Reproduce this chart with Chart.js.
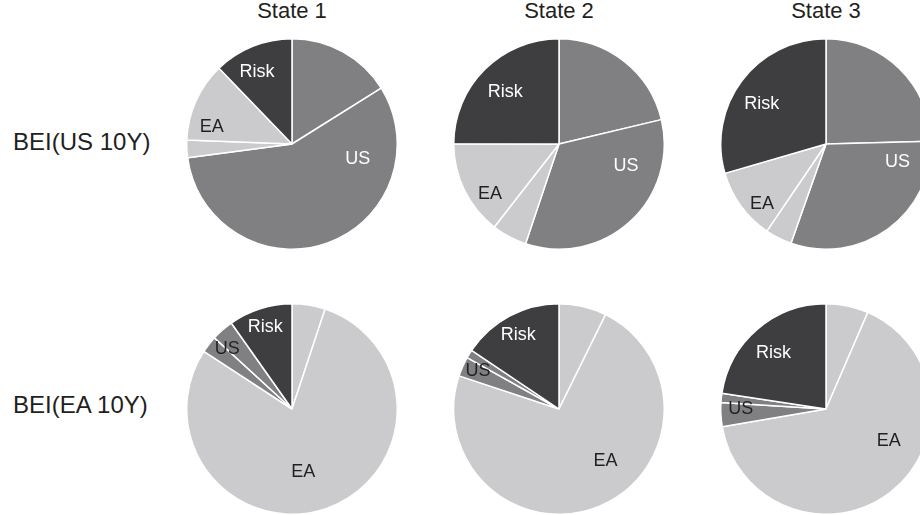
<!DOCTYPE html>
<html>
<head>
<meta charset="utf-8">
<script src="https://cdn.jsdelivr.net/npm/chart.js@4.4.1/dist/chart.umd.min.js"></script>
<style>
  html, body { margin: 0; padding: 0; background: #fff; overflow: hidden; }
  body { width: 920px; height: 515px; position: relative; font-family: "Liberation Sans", Arial, sans-serif; color: #231f20; }
  .title { position: absolute; top: -2px; width: 140px; margin-left: -70px; text-align: center; font-size: 22px; line-height: 26px; }
  .rowlab { position: absolute; left: 13px; font-size: 24px; line-height: 28px; margin-top: -14px; white-space: nowrap; }
  canvas { position: absolute; }
</style>
</head>
<body>
<div class="title" style="left:292px">State 1</div>
<div class="title" style="left:559px">State 2</div>
<div class="title" style="left:826px">State 3</div>
<div class="rowlab" style="top:142px">BEI(US 10Y)</div>
<div class="rowlab" style="top:405px">BEI(EA 10Y)</div>

<canvas id="p1" width="212" height="212" style="left:186px;top:38px"></canvas>
<canvas id="p2" width="212" height="212" style="left:453px;top:38px"></canvas>
<canvas id="p3" width="212" height="212" style="left:720px;top:38px"></canvas>
<canvas id="p4" width="212" height="212" style="left:186px;top:303px"></canvas>
<canvas id="p5" width="212" height="212" style="left:453px;top:303px"></canvas>
<canvas id="p6" width="212" height="212" style="left:720px;top:303px"></canvas>

<script>
// DATA (shares in %, slices run clockwise from 12 o'clock)

const states = ['State 1', 'State 2', 'State 3'];
const variables = ['BEI(US 10Y)', 'BEI(EA 10Y)'];

const usShocks = ['US', 'US', 'EA', 'EA', 'Risk'];
const eaShocks = ['EA', 'EA', 'US', 'US', 'Risk'];

const usBei1 = [16.1, 56.8, 2.7, 12.2, 12.2];
const usBei2 = [21.3, 33.9, 5.4, 14.5, 25.0];
const usBei3 = [24.6, 30.8, 4.1, 11.0, 29.5];

const eaBei1 = [5.1, 79.2, 2.6, 3.4, 9.8];
const eaBei2 = [7.3, 72.8, 3.0, 1.3, 15.6];
const eaBei3 = [6.5, 65.8, 3.7, 1.4, 22.6];

// STYLE

const shockColors = { US: '#808083', EA: '#cbcbcd', Risk: '#3e3e40' };
const dark = '#231f20';

// where each slice label sits: slice index, angle (deg from top), share of radius
const usPlace = [
  [{ i: 4, a: 334, r: 0.76, c: '#fff' }, { i: 3, a: 282, r: 0.78, c: dark }, { i: 1, a: 103, r: 0.64, c: '#fff' }],
  [{ i: 4, a: 314, r: 0.71, c: '#fff' }, { i: 3, a: 234, r: 0.81, c: dark }, { i: 1, a: 108, r: 0.67, c: '#fff' }],
  [{ i: 4, a: 302, r: 0.72, c: '#fff' }, { i: 3, a: 227, r: 0.83, c: dark }, { i: 1, a: 104, r: 0.70, c: '#fff' }]
];
const eaPlace = [
  [{ i: 4, a: 342, r: 0.82, c: '#fff' }, { i: 2, a: 313, r: 0.84, c: dark }, { i: 1, a: 170, r: 0.61, c: dark }],
  [{ i: 4, a: 331, r: 0.80, c: '#fff' }, { i: 2, a: 295, r: 0.85, c: dark }, { i: 1, a: 138, r: 0.66, c: dark }],
  [{ i: 4, a: 317, r: 0.73, c: '#fff' }, { i: 2, a: 270, r: 0.81, c: dark }, { i: 1, a: 117, r: 0.67, c: dark }]
];

function makePie(id, shocks, values, place) {
  const labelPlugin = {
    id: 'sliceLabels',
    afterDatasetsDraw(chart) {
      const arc = chart.getDatasetMeta(0).data[0];
      const ctx = chart.ctx;
      ctx.save();
      ctx.font = '18px "Liberation Sans", Arial, sans-serif';
      ctx.textAlign = 'center';
      ctx.textBaseline = 'middle';
      place.forEach(p => {
        const ang = p.a * Math.PI / 180;
        ctx.fillStyle = p.c;
        ctx.fillText(chart.data.labels[p.i],
          arc.x + Math.sin(ang) * p.r * arc.outerRadius,
          arc.y - Math.cos(ang) * p.r * arc.outerRadius);
      });
      ctx.restore();
    }
  };

  return new Chart(document.getElementById(id), {
    type: 'pie',
    data: {
      labels: shocks,
      datasets: [{
        data: values,
        backgroundColor: shocks.map(s => shockColors[s]),
        borderColor: '#ffffff',
        borderWidth: 1.5
      }]
    },
    options: {
      responsive: false,
      animation: false,
      layout: { padding: 0 },
      plugins: {
        legend: { display: false },
        tooltip: { enabled: false }
      }
    },
    plugins: [labelPlugin]
  });
}

makePie('p1', usShocks, usBei1, usPlace[0]);
makePie('p2', usShocks, usBei2, usPlace[1]);
makePie('p3', usShocks, usBei3, usPlace[2]);
makePie('p4', eaShocks, eaBei1, eaPlace[0]);
makePie('p5', eaShocks, eaBei2, eaPlace[1]);
makePie('p6', eaShocks, eaBei3, eaPlace[2]);
</script>
</body>
</html>
